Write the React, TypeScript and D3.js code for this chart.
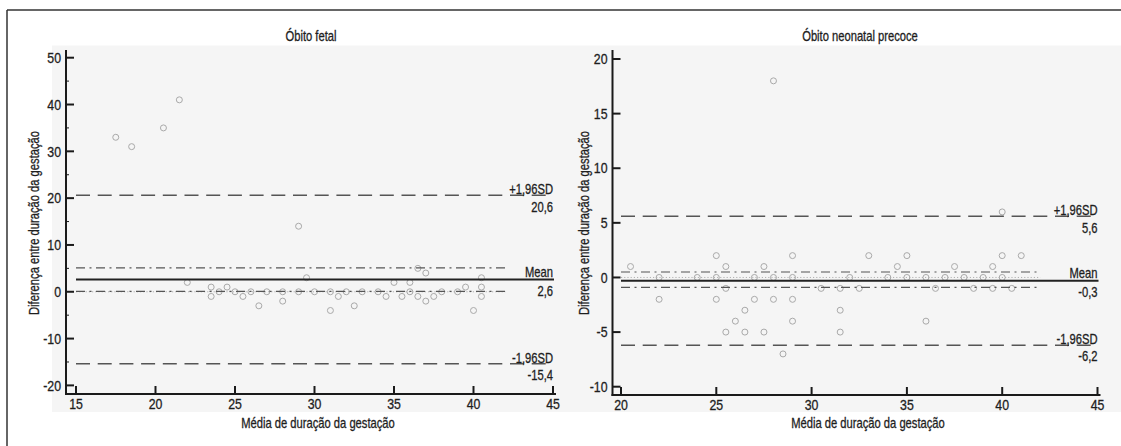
import React from "react";
import * as d3 from "d3";

const FONT = "'Liberation Sans', Arial, sans-serif";
const SX = 0.8; // horizontal condensing to imitate the narrow typeface

// Óbito fetal: média (x) e diferença (y)
const fetalMean = [17.5, 18.5, 20.5, 21.5, 22, 23.5, 23.5, 24, 24.5, 25, 25.5, 26, 26.5, 27, 28, 28, 29, 29, 29.5, 30, 31, 31, 31.5, 32, 32.5, 33, 34, 34.5, 35, 35.5, 36, 36, 36.5, 36.5, 37, 37, 37.5, 38, 39, 39.5, 40, 40.5, 40.5, 40.5];
const fetalDiff = [33, 31, 35, 41, 2, 1, -1, 0, 1, 0, -1, 0, -3, 0, 0, -2, 14, 0, 3, 0, 0, -4, -1, 0, -3, 0, 0, -1, 2, -1, 2, 0, 5, -1, 4, -2, -1, 0, 0, 1, -4, 3, 1, -1];

// Óbito neonatal precoce
const neoMean = [20.5, 22, 22, 24, 25, 25, 25, 25.5, 25.5, 25.5, 26, 26.5, 26.5, 27, 27, 27.5, 27.5, 28, 28, 28, 28.5, 29, 29, 29, 29, 30.5, 31.5, 31.5, 31.5, 32, 32.5, 33, 34, 34.5, 35, 35, 36, 36, 36.5, 37, 37.5, 38, 38.5, 39, 39.5, 39.5, 40, 40, 40, 40.5, 41];
const neoDiff = [1, 0, -2, 0, 2, 0, -2, 1, -1, -5, -4, -3, -5, 0, -2, 1, -5, 18, 0, -2, -7, 2, 0, -2, -4, -1, -1, -3, -5, 0, -1, 2, 0, 1, 2, 0, 0, -4, -1, 0, 1, 0, -1, 0, 1, -1, 6, 2, 0, -1, 2];

const fetalXTicks = [15, 20, 25, 30, 35, 40, 45];
const fetalYTicks = [-20, -10, 0, 10, 20, 30, 40, 50];
const fetalYMinor = [-15, -5, 5, 15, 25, 35, 45];
const neoXTicks = [20, 25, 30, 35, 40, 45];
const neoYTicks = [-10, -5, 0, 5, 10, 15, 20];

const fetalStats = { upper: 20.6, mean: 2.6, lower: -15.4, ciHigh: 5.1, ciLow: 0.1 };
const neoStats = { upper: 5.6, mean: -0.3, lower: -6.2, ciHigh: 0.5, ciLow: -0.9 };

const fmt = (v: number) => v.toFixed(1).replace(".", ",");

type CTextProps = {
  x: number;
  y: number;
  anchor?: "start" | "middle" | "end";
  size?: number;
  sx?: number;
  rotate?: number;
  dy?: string;
  children: React.ReactNode;
};

function CText({ x, y, anchor = "start", size = 14, sx = SX, rotate = 0, dy, children }: CTextProps) {
  const t = rotate ? `translate(${x},${y}) rotate(${rotate}) scale(${sx},1)` : `translate(${x},${y}) scale(${sx},1)`;
  return (
    <text transform={t} textAnchor={anchor} fontSize={size} fontFamily={FONT} fill="#1e1e1e" stroke="#1e1e1e" strokeWidth={0.3} dy={dy}>
      {children}
    </text>
  );
}

type PanelProps = {
  title: string;
  xs: number[];
  ys: number[];
  xDomain: [number, number];
  xRange: [number, number];
  yDomain: [number, number];
  yRange: [number, number];
  axisX: number;
  axisY: number;
  axisTop: number;
  xTicks: number[];
  yTicks: number[];
  yMinor: number[];
  stats: { upper: number; mean: number; lower: number; ciHigh: number; ciLow: number };
  ciEnd: number;
  titleX: number;
  xLabelX: number;
  yLabelX: number;
};

function Panel(p: PanelProps) {
  const x = d3.scaleLinear().domain(p.xDomain).range(p.xRange);
  const y = d3.scaleLinear().domain(p.yDomain).range(p.yRange);
  const x0 = x(p.xDomain[0]);
  const x1 = x(p.xDomain[1]);
  const xc = x(p.ciEnd);
  const s = p.stats;
  return (
    <g>
      <CText x={p.titleX} y={41} anchor="middle" size={14}>{p.title}</CText>
      <line x1={x0} x2={xc} y1={y(0)} y2={y(0)} stroke="#b0b0b0" strokeWidth={1} strokeDasharray="1.2,2" />
      {p.xs.map((v, i) => (
        <circle key={i} cx={x(v)} cy={y(p.ys[i])} r={3} fill="none" stroke="#a9a9a9" strokeWidth={1} />
      ))}
      {[s.ciHigh, s.ciLow].map((v, i) => (
        <line key={"ci" + i} x1={x0} x2={xc} y1={y(v)} y2={y(v)} stroke="#555" strokeWidth={1.2} strokeDasharray="9,4.5,2,4.5" />
      ))}
      {[s.upper, s.lower].map((v, i) => (
        <line key={"sd" + i} x1={x0} x2={x1} y1={y(v)} y2={y(v)} stroke="#555" strokeWidth={1.5} strokeDasharray="14,7.7" />
      ))}
      <line x1={x0} x2={x1 + 1} y1={y(s.mean)} y2={y(s.mean)} stroke="#222" strokeWidth={2} />
      <CText x={x1} y={y(s.upper) - 1} anchor="end">+1,96SD</CText>
      <CText x={x1} y={y(s.upper) + 17} anchor="end">{fmt(s.upper)}</CText>
      <CText x={x1} y={y(s.mean) - 3} anchor="end">Mean</CText>
      <CText x={x1} y={y(s.mean) + 16} anchor="end">{fmt(s.mean)}</CText>
      <CText x={x1} y={y(s.lower) - 1} anchor="end">-1,96SD</CText>
      <CText x={x1} y={y(s.lower) + 16} anchor="end">{fmt(s.lower)}</CText>
      <line x1={p.axisX} x2={p.axisX} y1={p.axisTop} y2={p.axisY + 1} stroke="#1a1a1a" strokeWidth={2} />
      <line x1={p.axisX - 1} x2={x1 + 3} y1={p.axisY} y2={p.axisY} stroke="#1a1a1a" strokeWidth={2} />
      {p.xTicks.map((t) => (
        <g key={"xt" + t}>
          <line x1={x(t)} x2={x(t)} y1={p.axisY} y2={p.axisY - 8} stroke="#1a1a1a" strokeWidth={2} />
          <CText x={x(t)} y={p.axisY + 15} anchor="middle" size={14.5} sx={0.85}>{t}</CText>
        </g>
      ))}
      {p.yTicks.map((t) => (
        <g key={"yt" + t}>
          <line x1={p.axisX} x2={p.axisX + 8} y1={y(t)} y2={y(t)} stroke="#1a1a1a" strokeWidth={2} />
          <CText x={p.axisX - 5} y={y(t)} dy="0.36em" anchor="end" size={14.5} sx={0.85}>{t}</CText>
        </g>
      ))}
      {p.yMinor.map((t) => (
        <line key={"ym" + t} x1={p.axisX} x2={p.axisX + 3} y1={y(t)} y2={y(t)} stroke="#1a1a1a" strokeWidth={1} />
      ))}
      <CText x={p.xLabelX} y={428} anchor="middle">Média de duração da gestação</CText>
      <CText x={p.yLabelX} y={223} anchor="middle" rotate={-90}>Diferença entre duração da gestação</CText>
    </g>
  );
}

export default function App() {
  return (
    <svg width={1121} height={446} style={{ position: "absolute", left: 0, top: 0, background: "#fff" }}>
      <rect x={52} y={45.5} width={1069} height={366.5} fill="#f5f5f5" />
      <line x1={7} x2={1121} y1={10} y2={10} stroke="#333" strokeWidth={1.5} />
      <line x1={7} x2={7} y1={10} y2={446} stroke="#333" strokeWidth={1.5} />
      <Panel
        title="Óbito fetal"
        xs={fetalMean}
        ys={fetalDiff}
        xDomain={[15, 45]}
        xRange={[76, 553]}
        yDomain={[-20, 50]}
        yRange={[385.4, 57.7]}
        axisX={66}
        axisY={394}
        axisTop={50}
        xTicks={fetalXTicks}
        yTicks={fetalYTicks}
        yMinor={fetalYMinor}
        stats={fetalStats}
        ciEnd={42}
        titleX={311}
        xLabelX={318}
        yLabelX={39}
      />
      <Panel
        title="Óbito neonatal precoce"
        xs={neoMean}
        ys={neoDiff}
        xDomain={[20, 45]}
        xRange={[621, 1097.5]}
        yDomain={[-10, 20]}
        yRange={[386.7, 59]}
        axisX={612.5}
        axisY={395}
        axisTop={50}
        xTicks={neoXTicks}
        yTicks={neoYTicks}
        yMinor={[]}
        stats={neoStats}
        ciEnd={42}
        titleX={860}
        xLabelX={868}
        yLabelX={589}
      />
    </svg>
  );
}
